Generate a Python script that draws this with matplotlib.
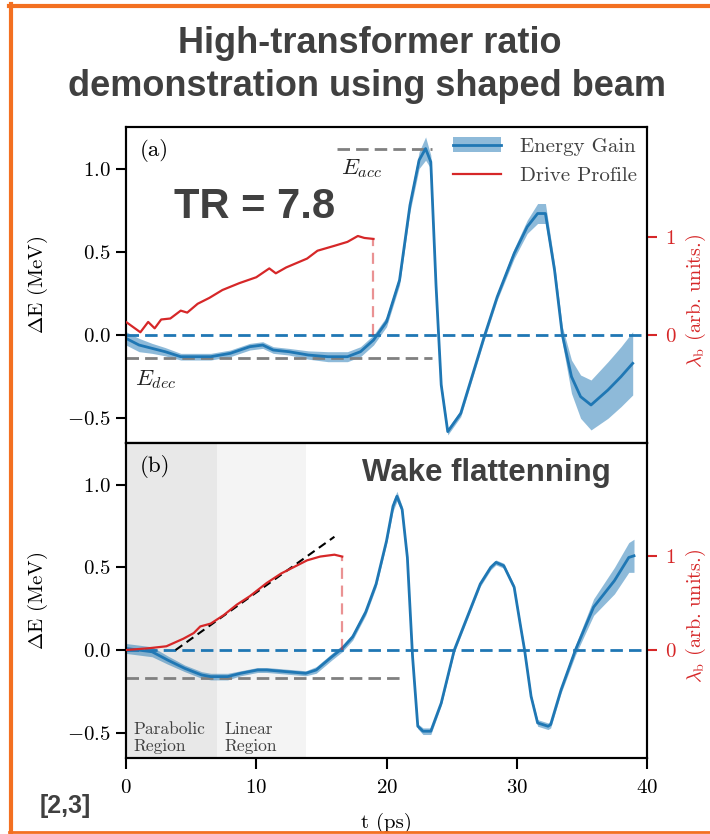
import matplotlib.pyplot as plt
from matplotlib.lines import Line2D
from matplotlib.patches import Patch
import numpy as np

plt.rcParams['font.family'] = 'cmr10'
plt.rcParams['mathtext.fontset'] = 'cm'
plt.rcParams['axes.formatter.use_mathtext'] = True
plt.rcParams['axes.unicode_minus'] = True

BLUE = '#1f77b4'
RED = '#d62728'
DARK = '#404040'
ORANGE = '#f37021'

# ---- panel (a): energy gain (MeV) with error band ----
t_a = [0.0, 1.0, 2.0, 3.0, 4.2, 5.5, 6.5, 8.0, 9.5, 10.5, 11.3, 12.5, 14.0, 15.5,
       17.0, 18.0, 19.0, 20.0, 21.0, 21.8, 22.5, 23.0, 23.4, 23.8, 24.2, 24.7,
       25.7, 27.5, 28.5, 29.8, 30.8, 31.6, 32.2, 32.9, 33.5, 34.2, 34.9, 35.7,
       37.0, 38.0, 38.9]
dE_a = [-0.02, -0.06, -0.08, -0.10, -0.13, -0.13, -0.13, -0.11, -0.07, -0.06,
        -0.09, -0.10, -0.12, -0.13, -0.13, -0.10, -0.03, 0.08, 0.33, 0.78, 1.05,
        1.12, 1.04, 0.30, -0.30, -0.58, -0.47, -0.01, 0.23, 0.49, 0.65, 0.73,
        0.73, 0.39, 0.00, -0.25, -0.37, -0.42, -0.33, -0.25, -0.17]
err_a = [0.04, 0.04, 0.03, 0.025, 0.02, 0.02, 0.02, 0.02, 0.02, 0.02, 0.02, 0.02,
         0.025, 0.03, 0.03, 0.03, 0.03, 0.03, 0.03, 0.04, 0.05, 0.07, 0.04, 0.02,
         0.02, 0.02, 0.02, 0.02, 0.02, 0.03, 0.04, 0.06, 0.06, 0.04, 0.05, 0.10,
         0.13, 0.15, 0.17, 0.18, 0.19]

# drive profile (arb. units)
t_drive_a = [0.0, 1.1, 1.7, 2.2, 2.7, 3.4, 4.2, 4.7, 5.5, 6.4, 7.4, 8.7, 10.0,
             11.0, 11.5, 12.3, 13.9, 14.7, 16.0, 17.0, 17.8, 18.3, 19.0]
drive_a = [0.135, 0.03, 0.135, 0.07, 0.16, 0.17, 0.25, 0.23, 0.32, 0.38, 0.46,
           0.53, 0.59, 0.68, 0.63, 0.69, 0.78, 0.86, 0.91, 0.95, 1.01, 0.99, 0.98]

E_acc = 1.12
E_acc_span = [16.2, 23.5]
E_dec_a = -0.14
E_dec_a_span = [0.0, 23.5]

# ---- panel (b) ----
t_b = [0.0, 1.0, 2.0, 3.2, 4.5, 5.8, 6.5, 7.8, 8.8, 10.1, 10.8, 12.3, 13.8, 14.6,
       15.8, 16.6, 17.4, 18.4, 19.2, 20.0, 20.5, 20.8, 21.2, 21.6, 22.0, 22.4,
       22.8, 23.4, 24.2, 25.2, 26.2, 27.2, 28.0, 28.4, 29.0, 29.8, 30.3, 30.6,
       31.1, 31.6, 32.4, 32.6, 33.4, 34.5, 35.9, 37.5, 38.6, 39.0]
dE_b = [0.01, 0.00, -0.01, -0.06, -0.11, -0.15, -0.16, -0.16, -0.14, -0.12, -0.12,
        -0.13, -0.14, -0.12, -0.04, 0.01, 0.08, 0.23, 0.40, 0.66, 0.87, 0.93, 0.85,
        0.56, -0.04, -0.46, -0.49, -0.49, -0.32, 0.00, 0.20, 0.40, 0.50, 0.53, 0.51,
        0.38, 0.14, 0.00, -0.28, -0.44, -0.46, -0.45, -0.24, 0.00, 0.26, 0.42,
        0.56, 0.57]
err_b = [0.03, 0.03, 0.03, 0.025, 0.02, 0.02, 0.02, 0.02, 0.015, 0.015, 0.015,
         0.015, 0.015, 0.02, 0.02, 0.02, 0.02, 0.02, 0.02, 0.02, 0.03, 0.03, 0.02,
         0.015, 0.015, 0.015, 0.02, 0.02, 0.015, 0.015, 0.015, 0.015, 0.015, 0.015,
         0.015, 0.015, 0.015, 0.015, 0.015, 0.02, 0.02, 0.02, 0.02, 0.03, 0.05,
         0.08, 0.09, 0.10]

t_drive_b = [0.0, 1.8, 3.1, 4.4, 5.2, 5.7, 6.5, 7.5, 8.5, 9.5, 10.8, 11.9, 12.9,
             13.9, 14.9, 16.0, 16.6]
drive_b = [0.0, 0.02, 0.04, 0.12, 0.18, 0.25, 0.28, 0.37, 0.48, 0.57, 0.71, 0.81,
           0.88, 0.95, 0.99, 1.01, 0.99]

fit_t = [3.8, 16.0]
fit_drive = [0.0, 1.2]
E_dec_b = -0.17
E_dec_b_span = [0.0, 21.2]
parabolic = [0.0, 7.0]
linear = [7.0, 13.8]

fig = plt.figure(figsize=(7.1, 8.34), dpi=100)
ax_a = fig.add_axes([0.1775, 0.4685, 0.7338, 0.3793])
ax_b = fig.add_axes([0.1775, 0.0915, 0.7338, 0.377])


def panel(ax, t, dE, err, t_dr, dr, twin_lim, letter):
    t = np.array(t)
    dE = np.array(dE)
    err = np.array(err)
    ax.fill_between(t, dE - err, dE + err, color=BLUE, alpha=0.5, lw=0, zorder=2)
    ax.plot(t, dE, color=BLUE, lw=2, zorder=3)
    ax.axhline(0, color=BLUE, ls='--', lw=2, dashes=(4.5, 2.2), zorder=4)
    ax.set_xlim(0, 40)
    ax.set_ylim(-0.65, 1.25)
    ax.set_yticks([-0.5, 0.0, 0.5, 1.0])
    ax.set_ylabel(r'$\Delta$E (MeV)', fontsize=15)
    ax.yaxis.set_label_coords(-0.146, 0.5)
    ax.tick_params(axis='y', labelsize=15, length=7, width=1.5, pad=4)
    for s in ax.spines.values():
        s.set_linewidth(1.5)
    ax.text(0.027, 0.925, letter, transform=ax.transAxes, fontsize=16.5, va='center')

    tw = ax.twinx()
    tw.plot(t_dr, dr, color=RED, lw=1.6, zorder=3)
    tw.plot([t_dr[-1], t_dr[-1]], [0, dr[-1]], color=RED, alpha=0.5, lw=1.6,
            ls='--', dashes=(5, 3))
    tw.set_xlim(0, 40)
    tw.set_ylim(*twin_lim)
    tw.set_yticks([0, 1])
    tw.tick_params(axis='y', colors=RED, labelsize=15, length=7, width=1.5, pad=6)
    tw.set_ylabel(r'$\lambda_\mathrm{b}$ (arb. units.)', color=RED, fontsize=14.5)
    tw.yaxis.set_label_coords(1.07, 0.45)
    for s in tw.spines.values():
        s.set_linewidth(1.5)
    tw.spines['right'].set_color('black')
    return tw


tw_a = panel(ax_a, t_a, dE_a, err_a, t_drive_a, drive_a, (-1.10, 2.12), '(a)')
ax_a.plot(E_acc_span, [E_acc, E_acc], color='gray', ls='--', lw=2, dashes=(4.5, 2.2))
ax_a.plot(E_dec_a_span, [E_dec_a, E_dec_a], color='gray', ls='--', lw=2, dashes=(4.5, 2.2))
ax_a.text(16.5, 1.0, r'$E_{acc}$', fontsize=16.5, va='center', color='#222222')
ax_a.text(0.7, -0.27, r'$E_{dec}$', fontsize=16.5, va='center', color='#222222')
ax_a.tick_params(axis='x', length=0, labelbottom=False)
tw_a.tick_params(axis='x', length=0, labelbottom=False)

handles = [(Patch(facecolor=BLUE, alpha=0.5, lw=0), Line2D([], [], color=BLUE, lw=2)),
           Line2D([], [], color=RED, lw=1.6)]
tw_a.legend(handles, ['Energy Gain', 'Drive Profile'], loc='upper right',
            frameon=False, fontsize=15, labelcolor=DARK, handlelength=2.3,
            handletextpad=0.9, borderaxespad=0.1, labelspacing=0.5)

tw_b = panel(ax_b, t_b, dE_b, err_b, t_drive_b, drive_b, (-1.14, 2.19), '(b)')
ax_b.axvspan(*parabolic, color='#e8e8e8', lw=0, zorder=0)
ax_b.axvspan(*linear, color='#f4f4f4', lw=0, zorder=0)
ax_b.plot(E_dec_b_span, [E_dec_b, E_dec_b], color='gray', ls='--', lw=2, dashes=(4.5, 2.2))
tw_b.plot(fit_t, fit_drive, color='black', ls='--', lw=1.5, dashes=(4, 2.5))
ax_b.text(0.55, -0.63, 'Parabolic\nRegion', fontsize=12.5, color=DARK, va='bottom',
          linespacing=1.15)
ax_b.text(7.55, -0.63, 'Linear\nRegion', fontsize=12.5, color=DARK, va='bottom',
          linespacing=1.15)
ax_b.set_xticks([0, 10, 20, 30, 40])
ax_b.tick_params(axis='x', labelsize=15, length=8, width=1.5, pad=7)
ax_b.set_xlabel('t (ps)', fontsize=15)
ax_b.xaxis.set_label_coords(0.5, -0.175)

# slide decorations
fig.text(0.521, 0.948, 'High-transformer ratio', ha='center', va='center',
         fontsize=26, fontweight='bold', family='Liberation Sans', color=DARK)
fig.text(0.517, 0.896, 'demonstration using shaped beam', ha='center', va='center',
         fontsize=26, fontweight='bold', family='Liberation Sans', color=DARK)
fig.text(0.359, 0.752, 'TR = 7.8', ha='center', va='center', fontsize=30,
         fontweight='bold', family='Liberation Sans', color=DARK)
fig.text(0.685, 0.433, 'Wake flattenning', ha='center', va='center', fontsize=22.5,
         fontweight='bold', family='Liberation Sans', color=DARK)
fig.text(0.092, 0.034, '[2,3]', ha='center', va='center', fontsize=18,
         fontweight='bold', family='Liberation Sans', color=DARK)

fig.add_artist(Line2D([0.0155, 0.0155], [0.0, 0.995], transform=fig.transFigure,
                      color=ORANGE, lw=3))
fig.add_artist(Line2D([0.013, 1.0], [0.993, 0.993], transform=fig.transFigure,
                      color=ORANGE, lw=3))
fig.add_artist(Line2D([0.013, 1.0], [0.002, 0.002], transform=fig.transFigure,
                      color=ORANGE, lw=2))

fig.savefig('out.png', dpi=100)
